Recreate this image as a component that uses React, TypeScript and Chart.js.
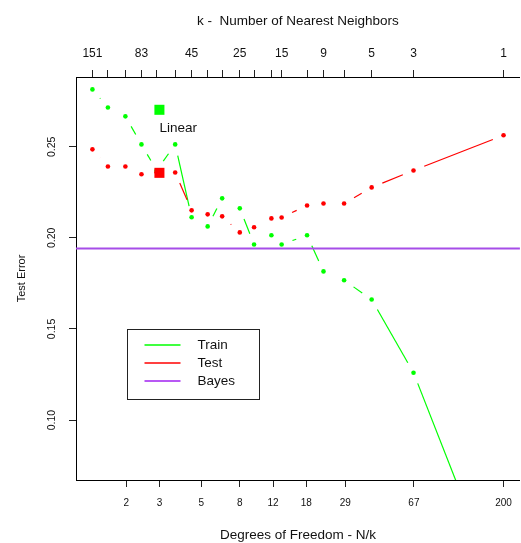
import React, { useEffect, useRef } from 'react';
import { Chart, registerables } from 'chart.js';

Chart.register(...registerables);

const FONT = '"Liberation Sans", Arial, Helvetica, sans-serif';
Chart.defaults.font.family = FONT;

// ---- data ----
const N = 200;
const kValues = [151, 125, 101, 83, 69, 55, 45, 37, 31, 25, 21, 17, 15, 11, 9, 7, 5, 3, 1];
const trainError = [0.2815, 0.2716, 0.2667, 0.2513, 0.237, 0.2513, 0.2113, 0.2063, 0.2217, 0.2162, 0.1964, 0.2014, 0.1964, 0.2014, 0.1816, 0.1767, 0.1662, 0.126, 0];
const testError = [0.2486, 0.2392, 0.2392, 0.2349, 0.236, 0.2359, 0.2151, 0.2129, 0.2118, 0.203, 0.2058, 0.2107, 0.2112, 0.2178, 0.2189, 0.2189, 0.2277, 0.237, 0.2563];
const bayesError = 0.1942;
const linearDf = 3;
const linearTrain = 0.2703;
const linearTest = 0.2357;
const linearLabel = 'Linear';
const linearLabelY = 0.2601;
const dfTicks = [2, 3, 5, 8, 12, 18, 29, 67, 200];
const kTickLabels = [151, 83, 45, 25, 15, 9, 5, 3, 1];
const yTicks = [0.1, 0.15, 0.2, 0.25];
const xMin = 1.0839;
const xMax = 244.2;
const yMin = 0.0671;
const yMax = 0.2883;
const legendLabels = ['Train', 'Test', 'Bayes'];

const GREEN = '#00ff00';
const RED = '#ff0000';
const PURPLE = '#a64de8';
const legendColors = [GREEN, RED, '#a020f0'];

const dfOf = (k: number) => N / k;

const gapLinesPlugin = {
  id: 'gapLines',
  beforeDatasetsDraw(chart: any) {
    const { ctx, chartArea: ca } = chart;
    const gap = 11.5;
    ctx.save();
    ctx.beginPath();
    ctx.rect(ca.left, ca.top, ca.right - ca.left, ca.bottom - ca.top);
    ctx.clip();
    chart.data.datasets.forEach((ds: any, i: number) => {
      if (!ds.gapLine) return;
      const pts = chart.getDatasetMeta(i).data;
      ctx.strokeStyle = ds.gapLine;
      ctx.lineWidth = 1.2;
      for (let j = 0; j < pts.length - 1; j++) {
        const a = pts[j];
        const b = pts[j + 1];
        const dx = b.x - a.x;
        const dy = b.y - a.y;
        const d = Math.hypot(dx, dy);
        if (d <= 2 * gap) continue;
        const ux = dx / d;
        const uy = dy / d;
        ctx.beginPath();
        ctx.moveTo(a.x + ux * gap, a.y + uy * gap);
        ctx.lineTo(b.x - ux * gap, b.y - uy * gap);
        ctx.stroke();
      }
    });
    ctx.restore();
  },
};

const annotationPlugin = {
  id: 'annot',
  afterDraw(chart: any) {
    const { ctx, chartArea: ca, scales } = chart;
    ctx.save();
    // Linear label
    ctx.fillStyle = '#111';
    ctx.font = `13.5px ${FONT}`;
    ctx.textAlign = 'left';
    ctx.textBaseline = 'middle';
    ctx.fillText(linearLabel, scales.x.getPixelForValue(linearDf), scales.y.getPixelForValue(linearLabelY));
    // legend box
    const x0 = Math.round(ca.left + 51) + 0.5;
    const y0 = Math.round(ca.top + 252) + 0.5;
    const w = 132;
    const h = 70;
    ctx.strokeStyle = '#222';
    ctx.lineWidth = 1;
    ctx.strokeRect(x0, y0, w, h);
    legendLabels.forEach((lab, i) => {
      const yy = y0 + 15.5 + i * 18;
      ctx.strokeStyle = legendColors[i];
      ctx.lineWidth = 1.5;
      ctx.beginPath();
      ctx.moveTo(x0 + 17, yy);
      ctx.lineTo(x0 + 53, yy);
      ctx.stroke();
      ctx.fillStyle = '#111';
      ctx.fillText(lab, x0 + 70, yy);
    });
    ctx.restore();
  },
};

export default function App() {
  const ref = useRef<HTMLCanvasElement | null>(null);

  useEffect(() => {
    if (!ref.current) return;
    const trainPts = kValues.map((k, i) => ({ x: dfOf(k), y: trainError[i] }));
    const testPts = kValues.map((k, i) => ({ x: dfOf(k), y: testError[i] }));
    const gridCommon = {
      drawOnChartArea: false,
      drawTicks: true,
      tickLength: 7,
      color: '#222',
      lineWidth: 1,
    };
    const border = { display: true, color: '#000', width: 1 };
    const chart = new Chart(ref.current, {
      type: 'scatter',
      data: {
        datasets: [
          {
            label: 'LinearTrain',
            data: [{ x: linearDf, y: linearTrain }],
            pointStyle: 'rect',
            pointRadius: 7.1,
            pointBorderWidth: 0,
            backgroundColor: GREEN,
            borderColor: GREEN,
          },
          {
            label: 'LinearTest',
            data: [{ x: linearDf, y: linearTest }],
            pointStyle: 'rect',
            pointRadius: 7.1,
            pointBorderWidth: 0,
            backgroundColor: RED,
            borderColor: RED,
          },
          {
            label: 'Train',
            data: trainPts,
            pointRadius: 2.3,
            pointBorderWidth: 0,
            backgroundColor: GREEN,
            borderColor: GREEN,
            gapLine: GREEN,
          } as any,
          {
            label: 'Test',
            data: testPts,
            pointRadius: 2.3,
            pointBorderWidth: 0,
            backgroundColor: RED,
            borderColor: RED,
            gapLine: RED,
          } as any,
          {
            label: 'Bayes',
            data: [
              { x: xMin, y: bayesError },
              { x: xMax, y: bayesError },
            ],
            showLine: true,
            pointRadius: 0,
            borderColor: PURPLE,
            borderWidth: 2,
          },
        ],
      },
      options: {
        animation: false,
        responsive: false,
        devicePixelRatio: 1,
        layout: { padding: 0 },
        plugins: { legend: { display: false }, tooltip: { enabled: false } },
        scales: {
          x: {
            type: 'logarithmic',
            position: 'bottom',
            min: xMin,
            max: xMax,
            afterBuildTicks: (s: any) => {
              s.ticks = dfTicks.map((v) => ({ value: v }));
            },
            afterFit: (s: any) => {
              s.height = 63;
              s.paddingLeft = 0;
              s.paddingRight = 0;
            },
            ticks: {
              autoSkip: false,
              minRotation: 0,
              maxRotation: 0,
              padding: 10,
              color: '#111',
              font: { size: 10, family: FONT },
              callback: (v: any) => String(Math.round(Number(v))),
            },
            grid: gridCommon,
            border,
            title: {
              display: true,
              text: 'Degrees of Freedom - N/k',
              color: '#111',
              font: { size: 13.5, family: FONT },
              padding: { top: 0, bottom: 0 },
            },
          },
          xTop: {
            type: 'logarithmic',
            position: 'top',
            min: xMin,
            max: xMax,
            afterBuildTicks: (s: any) => {
              s.ticks = kValues.map((k) => ({ value: dfOf(k) }));
            },
            afterFit: (s: any) => {
              s.height = 77;
              s.paddingLeft = 0;
              s.paddingRight = 0;
            },
            ticks: {
              autoSkip: false,
              minRotation: 0,
              maxRotation: 0,
              padding: 9.5,
              color: '#111',
              font: { size: 12, family: FONT },
              callback: (v: any) => {
                const k = Math.round(N / Number(v));
                return kTickLabels.includes(k) ? String(k) : '';
              },
            },
            grid: gridCommon,
            border,
            title: {
              display: true,
              text: 'k -  Number of Nearest Neighbors',
              color: '#111',
              font: { size: 13.5, family: FONT },
              padding: { top: 13.6, bottom: 0 },
            },
          },
          y: {
            type: 'linear',
            position: 'left',
            min: yMin,
            max: yMax,
            afterBuildTicks: (s: any) => {
              s.ticks = yTicks.map((v) => ({ value: v }));
            },
            afterFit: (s: any) => {
              s.width = 76;
              s.paddingTop = 0;
              s.paddingBottom = 0;
            },
            ticks: {
              minRotation: 90,
              maxRotation: 90,
              crossAlign: 'center',
              padding: 7,
              color: '#111',
              font: { size: 10.5, family: FONT },
              callback: (v: any) => Number(v).toFixed(2),
            },
            grid: gridCommon,
            border,
            title: {
              display: true,
              text: 'Test Error',
              color: '#111',
              font: { size: 11, family: FONT },
              padding: { top: 15, bottom: 0 },
            },
          },
        },
      } as any,
      plugins: [gapLinesPlugin, annotationPlugin],
    });
    return () => chart.destroy();
  }, []);

  return (
    <div
      style={{
        position: 'absolute',
        left: 0,
        top: 0,
        width: 521,
        height: 543,
        overflow: 'hidden',
        background: '#fff',
      }}
    >
      <canvas ref={ref} width={527} height={543} style={{ display: 'block' }} />
    </div>
  );
}
